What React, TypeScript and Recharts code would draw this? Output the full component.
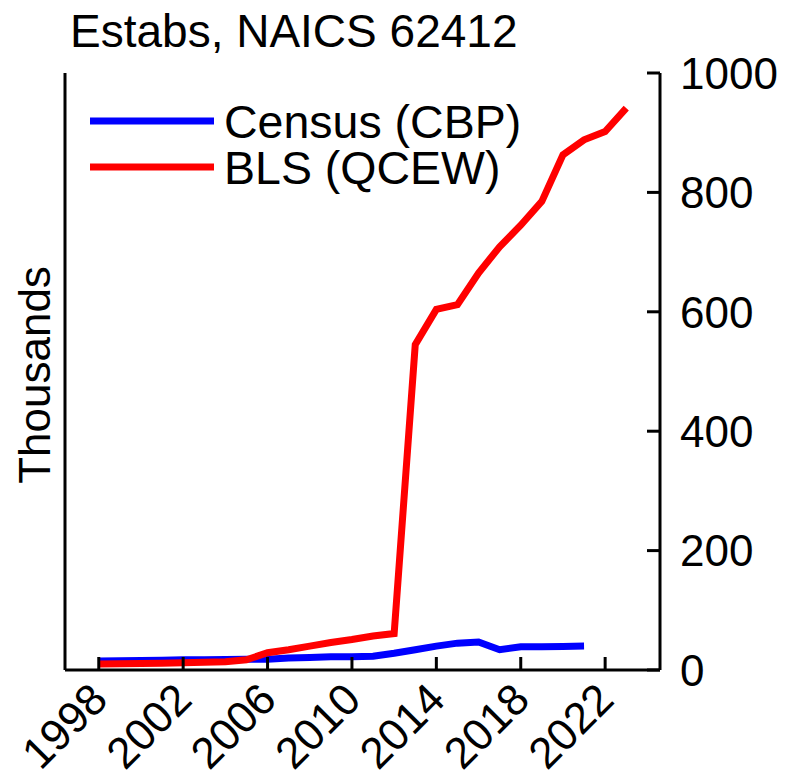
import { Line, LineChart, XAxis, YAxis } from 'recharts';

const years = [
  1998, 1999, 2000, 2001, 2002, 2003, 2004, 2005, 2006, 2007, 2008, 2009, 2010,
  2011, 2012, 2013, 2014, 2015, 2016, 2017, 2018, 2019, 2020, 2021, 2022, 2023,
];
// thousands of establishments
const census = [
  15, 15.5, 16, 16.5, 17, 17, 17.5, 18, 18, 20, 21, 22, 22, 23, 28, 34, 40, 45,
  47, 34, 39, 39, 39.5, 40,
];
const bls = [
  10, 10.5, 11, 11.5, 12, 13, 14, 17, 29, 34, 40, 46, 51, 57, 61, 545, 604, 612,
  665, 709, 745, 785, 863, 888, 902, 941,
];
const xTicks = [1998, 2002, 2006, 2010, 2014, 2018, 2022];
const yTicks = [0, 200, 400, 600, 800, 1000];

const series = [
  { key: 'census', name: 'Census (CBP)', color: '#0000ff' },
  { key: 'bls', name: 'BLS (QCEW)', color: '#ff0000' },
];

const data = years.map((year, i) => ({
  year,
  census: census[i],
  bls: bls[i],
}));

const FONT = '"Liberation Sans", Arial, sans-serif';

function XTick({ x, y, payload }: any) {
  return (
    <g>
      <line x1={x} y1={y} x2={x} y2={y - 13} stroke="#000" strokeWidth={3} />
      <text
        x={x + 11}
        y={y + 32}
        textAnchor="end"
        transform={`rotate(-45 ${x + 11} ${y + 32})`}
        fontSize={44}
        fontFamily={FONT}
        fill="#000"
      >
        {payload.value}
      </text>
    </g>
  );
}

function YTick({ x, y, payload }: any) {
  return (
    <g>
      <line x1={x} y1={y} x2={x - 13} y2={y} stroke="#000" strokeWidth={3} />
      <text x={x + 20} y={y} dy="0.36em" fontSize={44} fontFamily={FONT} fill="#000">
        {payload.value}
      </text>
    </g>
  );
}

export default function App() {
  return (
    <div style={{ position: 'absolute', left: 0, top: 0, background: '#fff' }}>
      <LineChart width={786} height={776} data={data} margin={{ top: 73, right: 0, bottom: 0, left: 0 }}>
        <XAxis
          dataKey="year"
          type="number"
          domain={[1996.4, 2024.6]}
          ticks={xTicks}
          height={106}
          tickSize={0}
          tickMargin={0}
          tickLine={false}
          axisLine={{ stroke: '#000', strokeWidth: 3 }}
          tick={<XTick />}
          interval={0}
        />
        <YAxis
          yAxisId="left"
          orientation="left"
          width={65}
          domain={[0, 1000]}
          tick={false}
          tickLine={false}
          axisLine={{ stroke: '#000', strokeWidth: 3 }}
        />
        <YAxis
          yAxisId="right"
          orientation="right"
          width={126}
          domain={[0, 1000]}
          ticks={yTicks}
          tickSize={0}
          tickMargin={0}
          tickLine={false}
          axisLine={{ stroke: '#000', strokeWidth: 3 }}
          tick={<YTick />}
          interval={0}
        />
        {series.map((s) => (
          <Line
            key={s.key}
            yAxisId="right"
            dataKey={s.key}
            name={s.name}
            type="linear"
            stroke={s.color}
            strokeWidth={7}
            dot={false}
            activeDot={false}
            isAnimationActive={false}
          />
        ))}
        {/* legend, top left inside the plot */}
        {series.map((s, i) => (
          <g key={`lg-${s.key}`}>
            <line x1={90} x2={214} y1={121 + i * 46} y2={121 + i * 46} stroke={s.color} strokeWidth={7} />
            <text x={224} y={138 + i * 46} fontSize={46.5} fontFamily={FONT} fill="#000">
              {s.name}
            </text>
          </g>
        ))}
        <text x={70} y={47} fontSize={46} fontFamily={FONT} fill="#000">
          Estabs, NAICS 62412
        </text>
        <text
          x={50}
          y={375}
          textAnchor="middle"
          transform="rotate(-90 50 375)"
          fontSize={44}
          fontFamily={FONT}
          fill="#000"
        >
          Thousands
        </text>
      </LineChart>
    </div>
  );
}
